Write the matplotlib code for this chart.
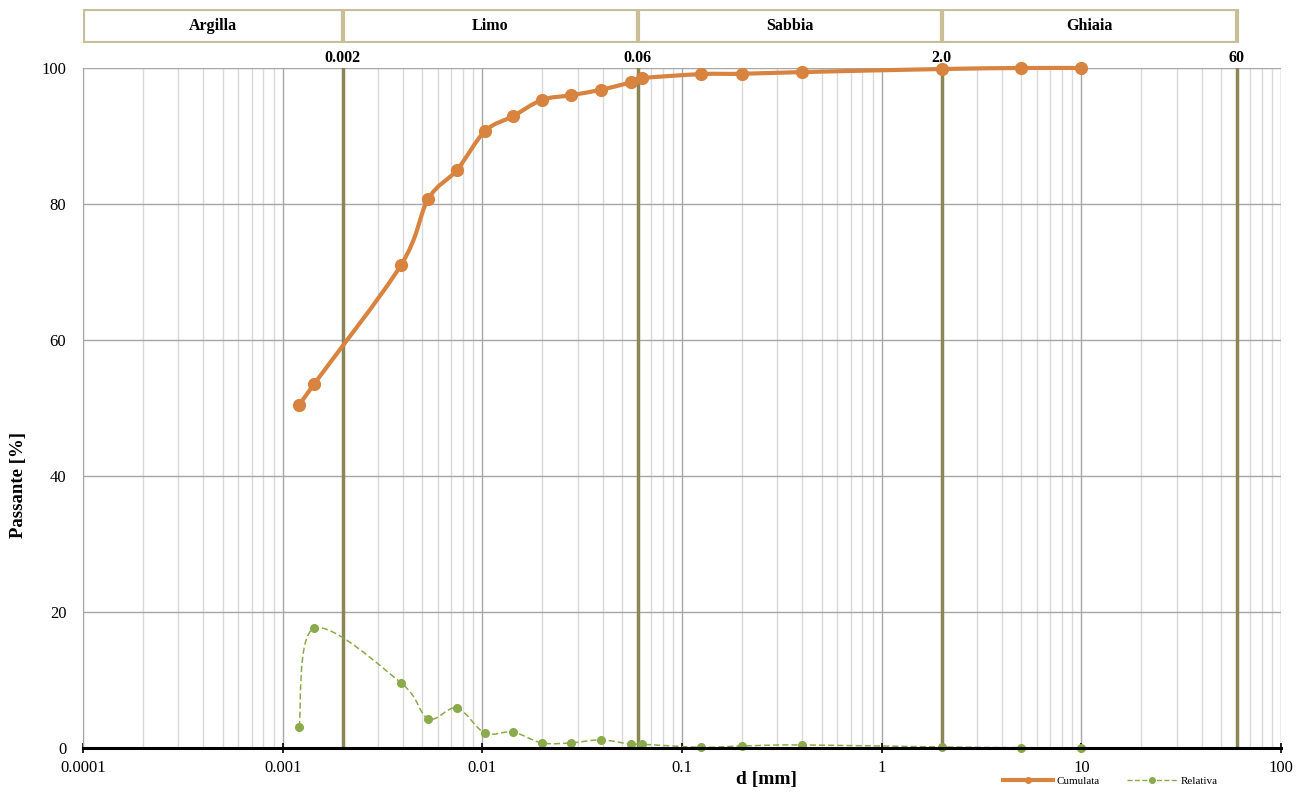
import numpy as np
import matplotlib.pyplot as plt
from matplotlib.path import Path
from matplotlib.patches import PathPatch, Rectangle
from matplotlib.lines import Line2D

plt.rcParams['font.family'] = ['Liberation Serif', 'DejaVu Serif']

# diametri [mm] e passanti [%]
diam = [0.00121, 0.001435, 0.00391, 0.00535, 0.00746, 0.0103, 0.01422, 0.01986,
        0.0278, 0.0393, 0.0555, 0.063, 0.125, 0.2, 0.4, 2.0, 5.0, 10.0]
cumulata = [50.4, 53.5, 71.0, 80.7, 85.0, 90.7, 92.9, 95.3,
            96.0, 96.8, 97.9, 98.5, 99.1, 99.15, 99.4, 99.85, 100.0, 100.0]
relativa = [3.1, 17.6, 9.6, 4.3, 5.9, 2.2, 2.35, 0.75,
            0.75, 1.2, 0.55, 0.55, 0.1, 0.3, 0.45, 0.15, 0.05, 0.0]

# limiti delle classi granulometriche
limiti = [0.0001, 0.002, 0.06, 2.0, 60]
limiti_lab = ['0.002', '0.06', '2.0', '60']
classi = ['Argilla', 'Limo', 'Sabbia', 'Ghiaia']

col_cum = '#D8833F'
col_rel = '#8BAA4B'
col_lim = '#8C8656'
col_box = '#C8BF98'


def smooth_path(xs, ys):
    # curva "smussata" tipo Excel (Catmull-Rom -> Bezier) nello spazio log(x)
    u = np.log10(xs)
    v = np.array(ys, dtype=float)
    n = len(u)
    verts = [(xs[0], ys[0])]
    codes = [Path.MOVETO]
    for i in range(n - 1):
        i0 = max(i - 1, 0)
        i3 = min(i + 2, n - 1)
        c1 = (u[i] + (u[i + 1] - u[i0]) / 6, v[i] + (v[i + 1] - v[i0]) / 6)
        c2 = (u[i + 1] - (u[i3] - u[i]) / 6, v[i + 1] - (v[i3] - v[i]) / 6)
        verts += [(10 ** c1[0], c1[1]), (10 ** c2[0], c2[1]), (xs[i + 1], ys[i + 1])]
        codes += [Path.CURVE4] * 3
    return Path(verts, codes)


fig = plt.figure(figsize=(13.05, 7.92), dpi=100)
ax = fig.add_axes([83 / 1305, 44 / 792, 1198 / 1305, 680 / 792])
ax.set_xscale('log')
ax.set_xlim(0.0001, 100)
ax.set_ylim(0, 100)

# griglia
ax.set_yticks(range(0, 101, 20))
ax.grid(True, which='major', axis='both', color='#a6a6a6', lw=1.0, zorder=0)
ax.grid(True, which='minor', axis='x', color='#d9d9d9', lw=1.0, zorder=0)
ax.set_axisbelow(True)

# linee dei limiti
for x in limiti[1:]:
    ax.axvline(x, color=col_lim, lw=2.5, zorder=2)
for x, lab in zip(limiti[1:], limiti_lab):
    ax.text(x, 100.3, lab, ha='center', va='bottom', fontsize=11.5,
            fontweight='bold', clip_on=False)

# curve
ax.add_patch(PathPatch(smooth_path(diam, cumulata), fc='none', ec=col_cum,
                       lw=3.0, zorder=4, clip_on=False))
ax.plot(diam, cumulata, 'o', color=col_cum, ms=8.5, zorder=5, clip_on=False)
ax.add_patch(PathPatch(smooth_path(diam, relativa), fc='none', ec=col_rel,
                       lw=1.1, ls=(0, (4, 2)), zorder=4, clip_on=False))
ax.plot(diam, relativa, 'o', color=col_rel, ms=5.5, zorder=5, clip_on=False)

# assi
for s in ['top', 'right']:
    ax.spines[s].set_visible(False)
ax.spines['left'].set_color('#a6a6a6')
ax.spines['bottom'].set_linewidth(2.2)
ax.spines['bottom'].set_zorder(6)
ax.tick_params(axis='x', which='major', direction='inout', length=7, width=1.2,
               labelsize=12, pad=5)
ax.tick_params(axis='x', which='minor', length=0)
ax.tick_params(axis='y', length=0, labelsize=12, pad=12)
ax.set_xticks([0.0001, 0.001, 0.01, 0.1, 1, 10, 100])
ax.set_xticklabels(['0.0001', '0.001', '0.01', '0.1', '1', '10', '100'])
ax.set_xlabel('d [mm]', fontsize=14, fontweight='bold')
ax.xaxis.set_label_coords((766 - 83) / 1198, -0.034)
ax.set_ylabel('Passante [%]', fontsize=13.5, fontweight='bold')
ax.yaxis.set_label_coords(-0.047, (748 - 485) / 680)

# fascia delle classi
band = fig.add_axes([83 / 1305, 749 / 792, 1198 / 1305, 34 / 792])
band.set_xscale('log')
band.set_xlim(0.0001, 100)
band.set_ylim(0, 1)
band.axis('off')
for a, b, nome in zip(limiti[:-1], limiti[1:], classi):
    band.add_patch(Rectangle((a, 0), b - a, 1, fc='white', ec=col_box, lw=3))
    band.text(np.sqrt(a * b), 0.5, nome, ha='center', va='center',
              fontsize=11.5, fontweight='bold')

# legenda
handles = [Line2D([], [], color=col_cum, lw=3, marker='o', ms=4),
           Line2D([], [], color=col_rel, lw=1, ls='--', marker='o', ms=4)]
fig.legend(handles, ['Cumulata', 'Relativa'], loc='center',
           bbox_to_anchor=(1110 / 1305, 11 / 792), ncol=2, frameon=False,
           fontsize=8, handlelength=4.5, columnspacing=2.5, handletextpad=0.3)

fig.savefig('out.png', dpi=100)
